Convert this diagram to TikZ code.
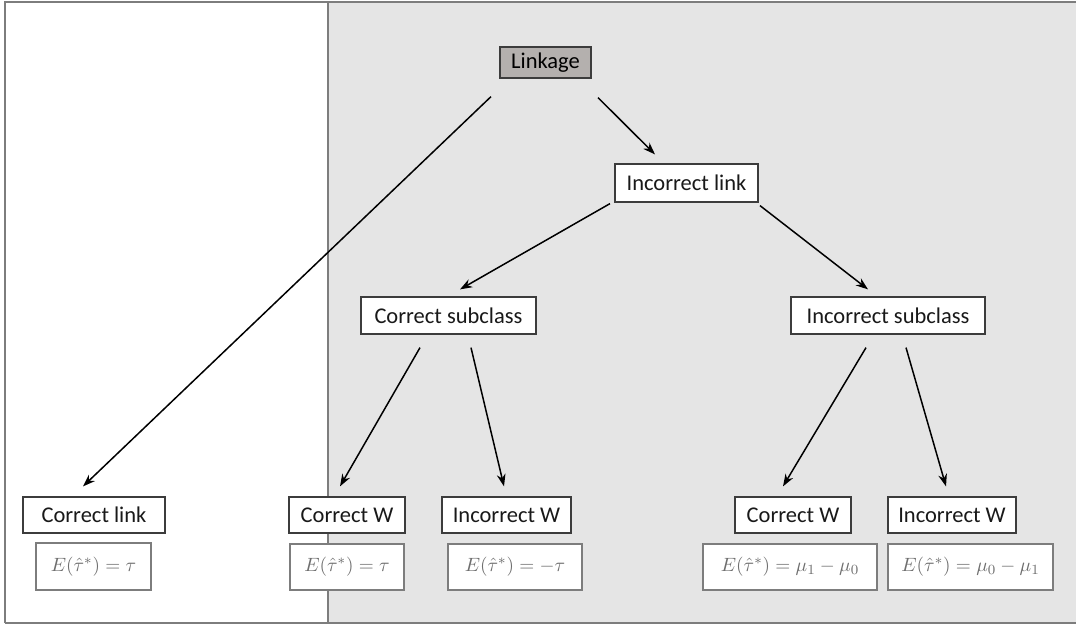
\documentclass[tikz,border=0pt]{standalone}
\usepackage{amsmath}
\usepackage[no-math]{fontspec}
\setmainfont{Carlito}
\usetikzlibrary{arrows.meta}
\definecolor{panel}{RGB}{229,229,229}
\definecolor{rootfill}{RGB}{180,176,174}
\definecolor{framegray}{RGB}{125,125,125}
\definecolor{boxline}{RGB}{60,60,60}
\definecolor{mathgray}{RGB}{110,110,110}

\begin{document}
\begin{tikzpicture}[x=0.02cm,y=-0.02cm,
    label box/.style={draw=boxline,line width=0.7pt,fill=white,inner sep=0pt,
        text=black!90,font=\fontsize{12.8}{15}\selectfont},
    value box/.style={draw=framegray,line width=0.7pt,fill=white,inner sep=0pt,
        text=mathgray,font=\fontsize{11}{13}\selectfont},
    arr/.style={-{Stealth[length=7pt,width=5pt]},line width=0.85pt}]
                % Canvas and panels
                \useasboundingbox (0,0) rectangle (1077,629);
                \fill[panel] (328,2) rectangle (1076,623);
                \draw[framegray,line width=0.9pt] (5,623) -- (5,2) -- (1076,2);
                \draw[framegray,line width=0.9pt] (5,623) -- (1076,623);
                \draw[framegray,line width=0.9pt] (328,2) -- (328,623);

                % Tree
                \node[draw=boxline,line width=0.7pt,fill=rootfill,inner sep=0pt,
                    minimum width=1.82cm,minimum height=0.62cm,
                    font=\fontsize{12.8}{15}\selectfont] (link) at (545.5,62.5) {Linkage};
                \node[label box,minimum width=2.86cm,minimum height=0.76cm] (inclink) at (686.5,183) {Incorrect link};
                \node[label box,minimum width=3.5cm,minimum height=0.74cm] (corsub) at (448.5,315.5) {Correct subclass};
                \node[label box,minimum width=3.88cm,minimum height=0.74cm] (incsub) at (888,315.5) {Incorrect subclass};

                % Leaves
                \node[label box,minimum width=2.84cm,minimum height=0.72cm] (corlink) at (94,515) {Correct link};
                \node[label box,minimum width=2.32cm,minimum height=0.72cm] (corwa) at (347,515) {Correct W};
                \node[label box,minimum width=2.58cm,minimum height=0.72cm] (incwa) at (506.5,515) {Incorrect W};
                \node[label box,minimum width=2.32cm,minimum height=0.72cm] (corwb) at (793,515) {Correct W};
                \node[label box,minimum width=2.56cm,minimum height=0.72cm] (incwb) at (952,515) {Incorrect W};

                % Expected values
                \node[value box,minimum width=2.3cm,minimum height=0.94cm] (vlink) at (93.5,566.5) {$E(\hat{\tau}^{*})=\tau$};
                \node[value box,minimum width=2.28cm,minimum height=0.92cm] (vcorwa) at (347,567) {$E(\hat{\tau}^{*})=\tau$};
                \node[value box,minimum width=2.68cm,minimum height=0.92cm] (vincwa) at (515,567) {$E(\hat{\tau}^{*})=-\tau$};
                \node[value box,minimum width=3.48cm,minimum height=0.92cm] (vcorwb) at (790,567) {$E(\hat{\tau}^{*})=\mu_1-\mu_0$};
                \node[value box,minimum width=3.3cm,minimum height=0.92cm] (vincwb) at (970.5,567) {$E(\hat{\tau}^{*})=\mu_0-\mu_1$};

                % Arrows
                \draw[arr] ([shift={(-54.5,18)}]link.south) -- ([shift={(-11,-10)}]corlink.north);
                \draw[arr] ([shift={(52.5,19)}]link.south) -- ([shift={(-31.5,-9)}]inclink.north);
                \draw[arr] ([shift={(-76.5,1)}]inclink.south) -- ([shift={(11.5,-7)}]corsub.north);
                \draw[arr] ([shift={(73.5,3)}]inclink.south) -- ([shift={(-20,-7)}]incsub.north);
                \draw[arr] ([shift={(-28.5,13)}]corsub.south) -- ([shift={(-7,-10)}]corwa.north);
                \draw[arr] ([shift={(22.5,13)}]corsub.south) -- ([shift={(-2.5,-10)}]incwa.north);
                \draw[arr] ([shift={(-22,13)}]incsub.south) -- ([shift={(-10,-10)}]corwb.north);
                \draw[arr] ([shift={(18,13)}]incsub.south) -- ([shift={(-6,-10)}]incwb.north);
\end{tikzpicture}
\end{document}
